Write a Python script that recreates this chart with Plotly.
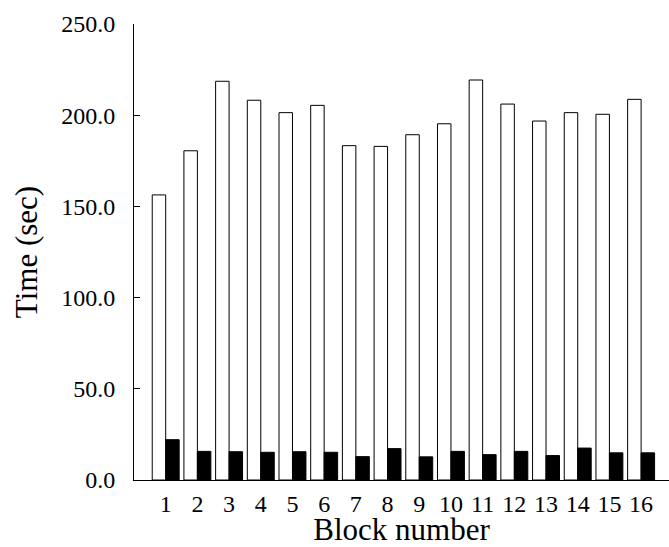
import plotly.graph_objects as go

blocks = list(range(1, 17))
tick_labels = [str(b) for b in blocks]
white_times = [156.3, 180.5, 218.6, 208.2, 201.4, 205.4, 183.3, 182.9,
               189.3, 195.3, 219.3, 206.1, 196.8, 201.4, 200.5, 208.7]
black_times = [22.1, 15.7, 15.5, 15.2, 15.5, 15.2, 12.8, 17.2,
               12.7, 15.7, 13.9, 15.7, 13.4, 17.5, 14.9, 14.9]

fig = go.Figure()
fig.add_trace(go.Bar(x=blocks, y=white_times, marker=dict(color="white", line=dict(color="black", width=1)),
                     showlegend=False))
fig.add_trace(go.Bar(x=blocks, y=black_times, marker=dict(color="black", line=dict(color="black", width=1)),
                     showlegend=False))

fig.update_layout(
    width=669, height=547,
    margin=dict(l=134, r=0, t=24, b=67),
    barmode="group", bargap=0.15, bargroupgap=0,
    plot_bgcolor="white", paper_bgcolor="white",
    font=dict(family="Liberation Serif", color="black", size=24),
    xaxis=dict(
        range=[0, 16.88], tickmode="array", tickvals=blocks, ticktext=tick_labels,
        showline=True, linecolor="black", linewidth=1, ticks="", showgrid=False, zeroline=False,
        tickfont=dict(size=24), ticklabelstandoff=2,
        title=dict(text="Block number", font=dict(size=31), standoff=5),
    ),
    yaxis=dict(
        range=[0, 250], tickvals=[0, 50, 100, 150, 200, 250], tickformat=".1f",
        showline=True, linecolor="black", linewidth=1, ticks="inside", ticklen=6, tickcolor="black",
        showgrid=False, zeroline=False, tickfont=dict(size=24), ticklabelstandoff=13,
        title=dict(text="Time (sec)", font=dict(size=31), standoff=14),
    ),
)

fig.write_html("out.html", config={"displayModeBar": False},
               post_script="document.body.style.margin='0px';document.body.style.overflow='hidden';")
